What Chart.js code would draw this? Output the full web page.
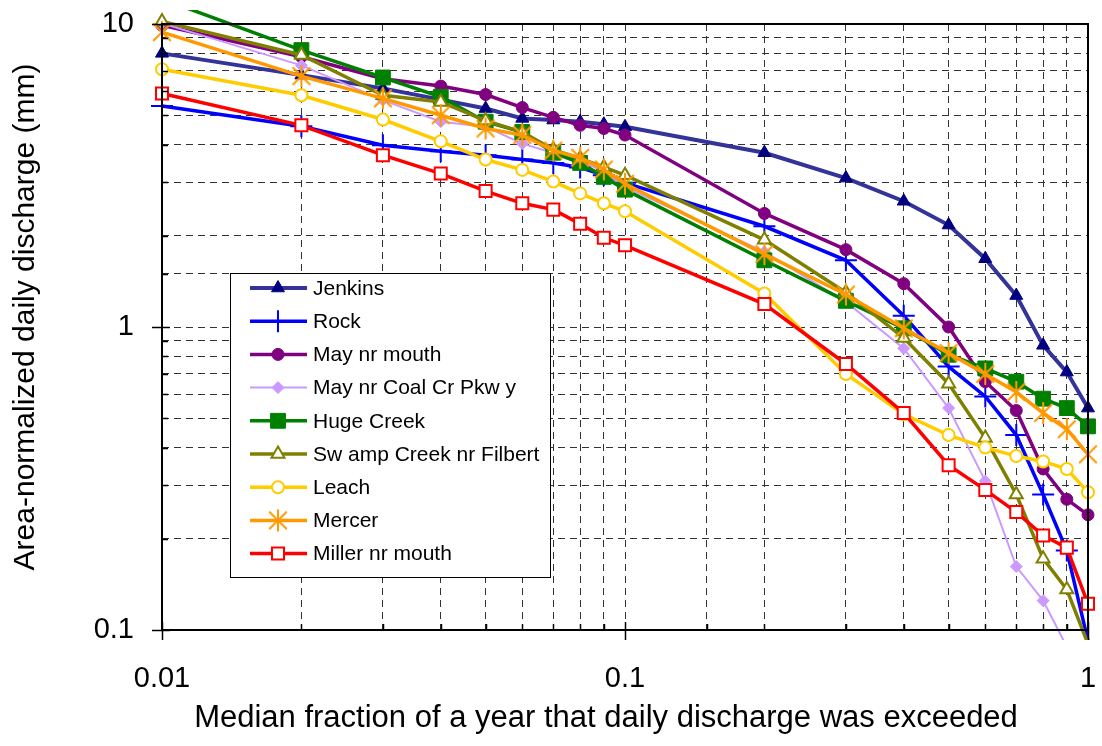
<!DOCTYPE html>
<html>
<head>
<meta charset="utf-8">
<script src="https://cdn.jsdelivr.net/npm/chart.js@4/dist/chart.umd.min.js"></script>
<style>
  body { margin: 0; background: #fff; }
  canvas { display: block; }
</style>
</head>
<body>
<canvas id="myChart" width="1102" height="746"></canvas>
<script>
// x values: median fraction of a year the discharge was exceeded
const fractions = [0.01, 0.02, 0.03, 0.04, 0.05, 0.06, 0.07, 0.08, 0.09, 0.1,
                   0.2, 0.3, 0.4, 0.5, 0.6, 0.7, 0.8, 0.9, 1.0];

// area-normalized daily discharge (mm)
const jenkins   = [8.0, 6.78, 6.13, 5.63, 5.26, 4.88, 4.82, 4.76, 4.67, 4.58, 3.76, 3.1, 2.6, 2.17, 1.68, 1.27, 0.87, 0.71, 0.54];
const rock      = [5.36, 4.6, 3.98, 3.8, 3.69, 3.57, 3.48, 3.36, 3.17, 2.99, 2.15, 1.66, 1.09, 0.74, 0.59, 0.44, 0.28, 0.183, 0.092];
const mayMouth  = [9.9, 7.8, 6.6, 6.24, 5.85, 5.3, 4.92, 4.63, 4.52, 4.3, 2.37, 1.8, 1.39, 1.0, 0.66, 0.53, 0.34, 0.27, 0.24];
const mayCoal   = [10.05, 7.3, 5.61, 4.76, 4.58, 4.03, 3.75, 3.55, 3.25, 2.9, 1.77, 1.21, 0.85, 0.54, 0.31, 0.162, 0.125, 0.088, 0.06];
const hugeCreek = [12.1, 8.2, 6.66, 5.75, 4.76, 4.4, 3.76, 3.48, 3.13, 2.84, 1.66, 1.22, 0.99, 0.81, 0.73, 0.66, 0.58, 0.54, 0.47];
const swamp     = [10.2, 7.9, 5.82, 5.53, 4.8, 4.4, 3.85, 3.6, 3.37, 3.17, 1.94, 1.3, 0.92, 0.65, 0.43, 0.28, 0.172, 0.136, 0.09];
const leach     = [7.09, 5.82, 4.84, 4.1, 3.57, 3.3, 3.02, 2.76, 2.56, 2.41, 1.29, 0.7, 0.515, 0.44, 0.4, 0.375, 0.36, 0.34, 0.285];
const mercer    = [9.4, 6.73, 5.68, 5.0, 4.52, 4.3, 3.82, 3.62, 3.31, 2.97, 1.74, 1.28, 0.99, 0.82, 0.7, 0.61, 0.52, 0.46, 0.38];
const miller    = [5.9, 4.63, 3.69, 3.21, 2.81, 2.56, 2.44, 2.19, 1.97, 1.86, 1.19, 0.755, 0.52, 0.35, 0.29, 0.245, 0.205, 0.187, 0.122];

const seriesNames = ['Jenkins', 'Rock', 'May nr mouth', 'May nr Coal Cr Pkw y', 'Huge Creek',
                     'Sw amp Creek nr Filbert', 'Leach', 'Mercer', 'Miller nr mouth'];
const seriesValues = [jenkins, rock, mayMouth, mayCoal, hugeCreek, swamp, leach, mercer, miller];

const xTitle = 'Median fraction of a year that daily discharge was exceeded';
const yTitle = 'Area-normalized daily discharge (mm)';
const fontFamily = '"Liberation Sans", Arial, sans-serif';

// excel style asterisk (vertical bar + X)
function makeAsterisk(color, size) {
  const c = document.createElement('canvas');
  c.width = size; c.height = size;
  const g = c.getContext('2d');
  const m = size / 2, r = size / 2 - 1, d = r * 0.8;
  g.strokeStyle = color;
  g.lineWidth = 2;
  g.beginPath();
  g.moveTo(m, m - r); g.lineTo(m, m + r);
  g.moveTo(m - d, m - d); g.lineTo(m + d, m + d);
  g.moveTo(m + d, m - d); g.lineTo(m - d, m + d);
  g.stroke();
  return c;
}

// look of each series: line colour, width, marker
const styles = [
  { line: '#333399', width: 4,   point: 'triangle', radius: 7.5, fill: '#000080', edge: '#000080', edgeW: 1 },
  { line: '#0000FF', width: 3.5, point: 'cross',    radius: 11,  fill: '#0000FF', edge: '#0000FF', edgeW: 2 },
  { line: '#800080', width: 3.5, point: 'circle',   radius: 6,   fill: '#800080', edge: '#800080', edgeW: 1 },
  { line: '#CC99FF', width: 2,   point: 'rectRot',  radius: 6,   fill: '#CC99FF', edge: '#CC99FF', edgeW: 1 },
  { line: '#008000', width: 3.5, point: 'rect',     radius: 10.5, fill: '#008000', edge: '#008000', edgeW: 1 },
  { line: '#808000', width: 3.5, point: 'triangle', radius: 7.5, fill: '#FFFFFF', edge: '#808000', edgeW: 2 },
  { line: '#FFCC00', width: 3.5, point: 'circle',   radius: 6,   fill: '#FFFFFF', edge: '#FFCC00', edgeW: 2 },
  { line: '#FF9900', width: 3.5, point: makeAsterisk('#FF9900', 24), radius: 12, fill: '#FF9900', edge: '#FF9900', edgeW: 2 },
  { line: '#FF0000', width: 3.5, point: 'rect',     radius: 8.5, fill: '#FFFFFF', edge: '#FF0000', edgeW: 2 }
];

const datasets = seriesNames.map((name, i) => ({
  label: name,
  data: fractions.map((x, j) => ({ x: x, y: seriesValues[i][j] })),
  borderColor: styles[i].line,
  borderWidth: styles[i].width,
  pointStyle: styles[i].point,
  pointRadius: styles[i].radius,
  pointBackgroundColor: styles[i].fill,
  pointBorderColor: styles[i].edge,
  pointBorderWidth: styles[i].edgeW,
  tension: 0,
  fill: false,
  clip: { left: 14, top: 14, right: 14, bottom: 10 },  // excel lets lines run a little past the frame
  order: seriesNames.length - i   // later series on top, like the original
}));

function isDecade(v) {
  const l = Math.log10(v);
  return Math.abs(l - Math.round(l)) < 1e-6;
}

function decadeLabel(v) {
  return isDecade(v) ? String(Number(v.toPrecision(1))) : '';
}

// keep the plot area where the original has it
function noPadding(s) {
  s.paddingLeft = 0; s.paddingRight = 0; s.paddingTop = 0; s.paddingBottom = 0;
}

// plot frame, excel like tick marks, axis titles and the boxed legend
const frameAndLegend = {
  id: 'frameAndLegend',
  afterDraw(chart) {
    const ctx = chart.ctx;
    const a = chart.chartArea;
    const xs = chart.scales.x, ys = chart.scales.y;
    ctx.save();

    ctx.strokeStyle = '#000';
    ctx.lineWidth = 1.5;
    xs.ticks.forEach(t => {
      const px = Math.round(xs.getPixelForValue(t.value)) + 0.5;
      ctx.beginPath();
      if (isDecade(t.value)) { ctx.moveTo(px, a.bottom - 8); ctx.lineTo(px, a.bottom + 10); }
      else { ctx.moveTo(px, a.bottom - 6); ctx.lineTo(px, a.bottom); }
      ctx.stroke();
    });
    ys.ticks.forEach(t => {
      const py = Math.round(ys.getPixelForValue(t.value)) + 0.5;
      ctx.beginPath();
      if (isDecade(t.value)) { ctx.moveTo(a.left - 10, py); ctx.lineTo(a.left + 8, py); }
      else { ctx.moveTo(a.left, py); ctx.lineTo(a.left + 6, py); }
      ctx.stroke();
    });

    ctx.lineWidth = 2;
    ctx.strokeRect(a.left, a.top, a.right - a.left, a.bottom - a.top);

    // axis titles
    ctx.fillStyle = '#000';
    ctx.textAlign = 'center';
    ctx.textBaseline = 'alphabetic';
    ctx.font = '31px ' + fontFamily;
    ctx.fillText(xTitle, 606, 727);
    ctx.save();
    ctx.translate(34, 317);
    ctx.rotate(-Math.PI / 2);
    ctx.font = '30px ' + fontFamily;
    ctx.fillText(yTitle, 0, 0);
    ctx.restore();

    // legend
    const bx = 230, by = 273, bw = 320, bh = 304, step = 33.2;
    ctx.fillStyle = '#fff';
    ctx.fillRect(bx, by, bw, bh);
    ctx.strokeStyle = '#000';
    ctx.lineWidth = 1;
    ctx.strokeRect(bx + 0.5, by + 0.5, bw, bh);
    ctx.font = '21px ' + fontFamily;
    ctx.textBaseline = 'middle';
    ctx.textAlign = 'left';
    chart.data.datasets.forEach((ds, i) => {
      const y = by + 15 + i * step;
      ctx.strokeStyle = ds.borderColor;
      ctx.lineWidth = ds.borderWidth;
      ctx.beginPath();
      ctx.moveTo(bx + 20, y); ctx.lineTo(bx + 77, y);
      ctx.stroke();
      ctx.fillStyle = ds.pointBackgroundColor;
      ctx.strokeStyle = ds.pointBorderColor;
      ctx.lineWidth = ds.pointBorderWidth;
      Chart.helpers.drawPoint(ctx, { pointStyle: ds.pointStyle, radius: ds.pointRadius, rotation: 0, borderWidth: ds.pointBorderWidth }, bx + 48, y);
      ctx.fillStyle = '#000';
      ctx.fillText(ds.label, bx + 83, y + 1);
    });
    ctx.restore();
  }
};

const ctx = document.getElementById('myChart').getContext('2d');
const myChart = new Chart(ctx, {
  type: 'line',
  data: { datasets: datasets },
  options: {
    responsive: false,
    animation: false,
    devicePixelRatio: 1,
    layout: { padding: { left: 0, right: 6, top: 24, bottom: 0 } },
    plugins: { legend: { display: false }, tooltip: { enabled: false } },
    scales: {
      x: {
        type: 'logarithmic',
        min: 0.01,
        max: 1,
        afterFit: s => { s.height = 116; noPadding(s); },
        grid: { color: '#333', lineWidth: 1, drawTicks: false },
        border: { display: false, dash: [7, 5] },
        ticks: {
          autoSkip: false,
          maxRotation: 0,
          padding: 32,
          color: '#000',
          font: { family: fontFamily, size: 29 },
          callback: v => decadeLabel(v)
        }
      },
      y: {
        type: 'logarithmic',
        min: 0.1,
        max: 10,
        afterFit: s => { s.width = 162; noPadding(s); },
        grid: { color: '#333', lineWidth: 1, drawTicks: false },
        border: { display: false, dash: [7, 5] },
        ticks: {
          autoSkip: false,
          padding: 28,
          color: '#000',
          font: { family: fontFamily, size: 29 },
          callback: v => decadeLabel(v)
        }
      }
    }
  },
  plugins: [frameAndLegend]
});
</script>
</body>
</html>
